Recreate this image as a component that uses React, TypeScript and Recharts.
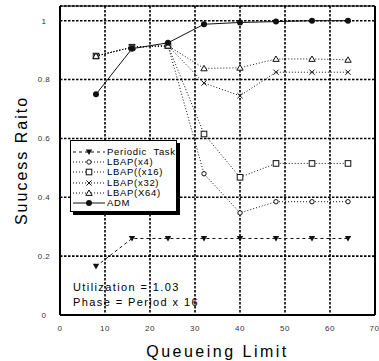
import React from 'react';
import { LineChart, Line, XAxis, YAxis, CartesianGrid, ReferenceLine } from 'recharts';

const limits = [8, 16, 24, 32, 40, 48, 56, 64];
const periodicTask = [0.165, 0.26, 0.26, 0.26, 0.26, 0.26, 0.26, 0.26];
const lbapX4 = [0.88, 0.91, 0.915, 0.48, 0.347, 0.385, 0.385, 0.385];
const lbapX16 = [0.88, 0.91, 0.915, 0.615, 0.468, 0.515, 0.515, 0.515];
const lbapX32 = [0.88, 0.91, 0.915, 0.788, 0.745, 0.825, 0.825, 0.825];
const lbapX64 = [0.88, 0.91, 0.915, 0.838, 0.84, 0.87, 0.87, 0.867];
const adm = [0.75, 0.905, 0.925, 0.988, 0.994, 0.997, 1.0, 1.0];

const xTicks = [0, 10, 20, 30, 40, 50, 60, 70];
const yTicks = [0, 0.2, 0.4, 0.6, 0.8, 1];

const data = limits.map((limit, i) => ({
  limit,
  periodic: periodicTask[i],
  x4: lbapX4[i],
  x16: lbapX16[i],
  x32: lbapX32[i],
  x64: lbapX64[i],
  adm: adm[i],
}));

const FONT = '"Liberation Sans", Arial, sans-serif';
const INK = '#111';

type P = { cx: number; cy: number };

const TriDown = ({ cx, cy }: P) => (
  <path d={`M${cx - 3.2},${cy - 2.6} L${cx + 3.2},${cy - 2.6} L${cx},${cy + 3} Z`} fill={INK} />
);
const OpenCircle = ({ cx, cy }: P) => (
  <circle cx={cx} cy={cy} r={2.2} fill="#fff" stroke={INK} strokeWidth={1} />
);
const OpenSquare = ({ cx, cy }: P) => (
  <rect x={cx - 2.8} y={cy - 2.8} width={5.6} height={5.6} fill="#fff" stroke={INK} strokeWidth={1} />
);
const Cross = ({ cx, cy }: P) => (
  <path d={`M${cx - 2.6},${cy - 2.6} L${cx + 2.6},${cy + 2.6} M${cx + 2.6},${cy - 2.6} L${cx - 2.6},${cy + 2.6}`} stroke={INK} strokeWidth={1} />
);
const OpenTri = ({ cx, cy }: P) => (
  <path d={`M${cx},${cy - 3} L${cx + 3.2},${cy + 2.4} L${cx - 3.2},${cy + 2.4} Z`} fill="#fff" stroke={INK} strokeWidth={1} />
);
const FilledCircle = ({ cx, cy }: P) => <circle cx={cx} cy={cy} r={3} fill={INK} />;

const series = [
  { key: 'periodic', name: 'Periodic  Task', dash: '3 3', Mark: TriDown },
  { key: 'x4', name: 'LBAP(x4)', dash: '1 2', Mark: OpenCircle },
  { key: 'x16', name: 'LBAP((x16)', dash: '1 2', Mark: OpenSquare },
  { key: 'x32', name: 'LBAP(x32)', dash: '1 2', Mark: Cross },
  { key: 'x64', name: 'LBAP(X64)', dash: '1 2', Mark: OpenTri },
  { key: 'adm', name: 'ADM', dash: undefined, Mark: FilledCircle },
];

const App = () => {
  return (
    <div style={{ position: 'absolute', left: 0, top: 0, width: 379, height: 361, background: '#fff', fontFamily: FONT }}>
      <LineChart width={379} height={361} data={data} margin={{ top: 6, right: 4, left: 0, bottom: 0 }}>
        <CartesianGrid stroke="#000" strokeWidth={1.6} strokeDasharray="2.5 1.5" />
        <XAxis
          type="number"
          dataKey="limit"
          domain={[0, 70]}
          ticks={xTicks}
          height={46}
          axisLine={{ stroke: '#000', strokeWidth: 2 }}
          tickLine={false}
          tick={{ fontSize: 8, fill: '#333', fontFamily: FONT, letterSpacing: 0.5 }}
          tickMargin={4}
          label={{ value: 'Queueing Limit', position: 'insideBottom', offset: 4, fontSize: 16, fill: '#000', fontFamily: FONT, letterSpacing: 2.5 }}
        />
        <YAxis
          type="number"
          domain={[0, 1.05]}
          ticks={yTicks}
          width={60}
          axisLine={{ stroke: '#000', strokeWidth: 2 }}
          tickLine={false}
          tick={{ fontSize: 8, fill: '#333', fontFamily: FONT, letterSpacing: 0.5, textAnchor: 'middle', dx: -8 }}
          tickFormatter={(v: number) => String(v)}
          label={{ value: 'Suucess Raito', angle: -90, position: 'insideLeft', offset: 16, dx: 5, fontSize: 16, fill: '#000', fontFamily: FONT, letterSpacing: 2, style: { textAnchor: 'middle' } }}
        />
        <ReferenceLine x={70} stroke="#000" strokeWidth={2} />
        <ReferenceLine y={1.05} stroke="#000" strokeWidth={1} />
        {series.map((s) => (
          <Line
            key={s.key}
            dataKey={s.key}
            stroke={INK}
            strokeWidth={1}
            strokeDasharray={s.dash}
            isAnimationActive={false}
            activeDot={false}
            dot={(p: any) => <s.Mark key={`${s.key}-${p.index}`} cx={p.cx} cy={p.cy} />}
          />
        ))}
      </LineChart>

      <div
        style={{
          position: 'absolute',
          left: 70,
          top: 140,
          width: 107,
          height: 72,
          background: '#fff',
          border: '1px solid #000',
          boxShadow: '3px 3px 0 #000',
          overflow: 'hidden',
          paddingTop: 6,
          boxSizing: 'border-box',
        }}
      >
        {series.map((s) => (
          <div key={s.key} style={{ display: 'flex', alignItems: 'center', height: 10.2, whiteSpace: 'pre' }}>
            <svg width={36} height={10} style={{ flex: 'none' }}>
              <line x1={2} y1={5} x2={34} y2={5} stroke={INK} strokeWidth={1} strokeDasharray={s.dash} />
              <s.Mark cx={18} cy={5} />
            </svg>
            <span style={{ fontSize: 9.5, letterSpacing: 0.7, color: '#000', lineHeight: '10px' }}>{s.name}</span>
          </div>
        ))}
      </div>

      <div style={{ position: 'absolute', left: 73, top: 280, fontSize: 11, letterSpacing: 1.4, color: '#000', lineHeight: '15px', whiteSpace: 'nowrap' }}>
        <div>Utilization = 1.03</div>
        <div>Phase = Period x 16</div>
      </div>
    </div>
  );
};

export default App;
